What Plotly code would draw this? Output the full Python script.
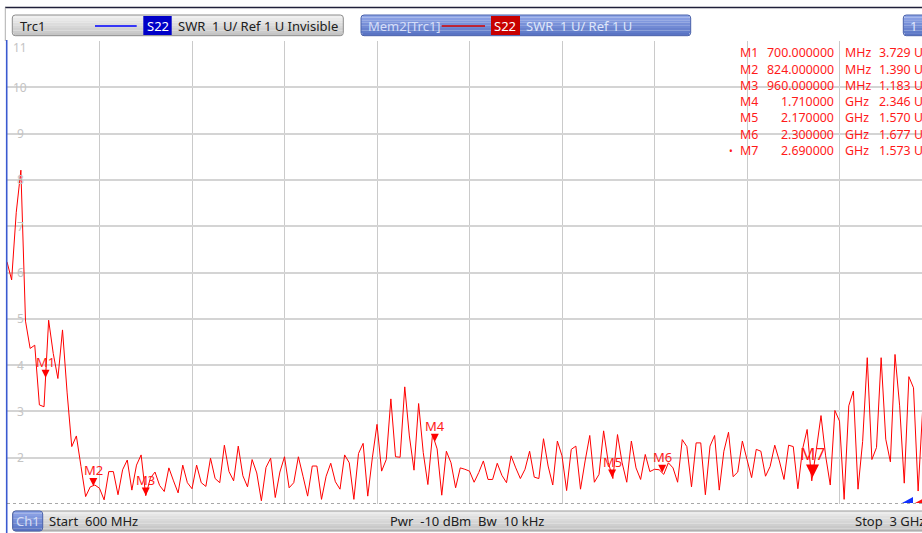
import plotly.graph_objects as go

# ---------------- data ----------------
start_mhz = 600
step_mhz = 12          # 201-point sweep 600 MHz .. 3 GHz
swr = [
    6.23, 5.84, 7.30, 8.21, 4.95, 4.36, 4.43, 3.14, 3.10, 4.97,
    4.25, 3.71, 4.76, 3.40, 2.24, 2.47, 1.81, 1.16, 1.37, 1.41,
    1.34, 1.09, 1.70, 1.70, 1.20, 1.74, 1.95, 1.30, 1.84, 2.06,
    1.18, 1.56, 1.69, 1.40, 1.27, 1.78, 1.50, 1.24, 1.84, 1.46,
    1.33, 1.84, 1.46, 1.38, 1.99, 1.55, 1.46, 2.27, 1.70, 1.50,
    2.25, 1.61, 1.37, 1.96, 1.67, 1.07, 1.79, 1.99, 1.14, 1.69,
    2.02, 1.35, 1.46, 2.02, 1.60, 1.17, 1.82, 1.82, 1.10, 1.60,
    1.88, 1.48, 1.32, 2.06, 1.89, 1.10, 2.09, 2.31, 1.17, 2.00,
    2.72, 1.71, 1.96, 3.27, 2.02, 2.01, 3.53, 2.47, 1.73, 3.17,
    2.11, 1.42, 2.50, 2.19, 1.19, 2.14, 1.89, 1.35, 1.78, 1.75,
    1.71, 1.47, 1.68, 1.93, 1.53, 1.53, 1.88, 1.62, 1.46, 2.04,
    1.78, 1.55, 1.75, 2.14, 1.58, 1.55, 2.41, 1.82, 1.41, 2.36,
    2.04, 1.29, 2.18, 2.25, 1.32, 1.93, 2.48, 1.47, 1.64, 2.58,
    1.90, 1.55, 2.50, 1.89, 1.47, 2.36, 1.78, 1.53, 2.07, 1.70,
    1.75, 1.74, 1.64, 1.89, 1.78, 1.47, 2.39, 2.24, 1.37, 2.32,
    2.32, 1.20, 2.25, 2.48, 1.30, 2.14, 2.55, 1.59, 1.69, 2.36,
    1.96, 1.57, 2.18, 2.14, 1.60, 1.81, 2.27, 1.93, 1.53, 2.27,
    2.24, 1.33, 2.18, 2.61, 1.50, 2.18, 2.91, 2.04, 1.41, 3.02,
    2.79, 1.10, 3.12, 3.44, 1.32, 2.35, 4.16, 1.96, 2.22, 4.16,
    2.40, 1.91, 4.23, 3.12, 1.45, 3.75, 3.51, 1.28, 3.08,
]
freq_mhz = [start_mhz + step_mhz * i for i in range(len(swr))]

marker_names = ["M1", "M2", "M3", "M4", "M5", "M6", "M7"]
marker_freq_mhz = [700, 824, 960, 1710, 2170, 2300, 2690]
marker_swr = [3.729, 1.390, 1.183, 2.346, 1.570, 1.677, 1.573]
marker_freq_text = ["700.000000", "824.000000", "960.000000", "1.710000",
                    "2.170000", "2.300000", "2.690000"]
marker_unit = ["MHz", "MHz", "MHz", "GHz", "GHz", "GHz", "GHz"]
active_marker = "M7"

y_tick_values = [2, 3, 4, 5, 6, 7, 8, 9, 10, 11]

# ---------------- layout geometry (pixels) ----------------
W, H = 922, 533
PL, PR, PT, PB = 7, 922, 41, 504
MHZ_PER_PX = 2400 / 925.0
x_max = start_mhz + (PR - PL) * MHZ_PER_PX

FONT = "Noto Sans"
RED = "#ff1a1a"


def px(x):
    return (x - PL) / (PR - PL)


def py(y):
    return (PB - y) / (PB - PT)


def mix(c1, c2, t):
    a = [int(c1[i:i + 2], 16) for i in (1, 3, 5)]
    b = [int(c2[i:i + 2], 16) for i in (1, 3, 5)]
    return "#%02x%02x%02x" % tuple(round(a[k] + (b[k] - a[k]) * t) for k in range(3))


shapes = []
annotations = []


def add_box(x0, y0, x1, y1, top, bottom, border, n=8):
    for k in range(n):
        ya = y0 + (y1 - y0) * k / n
        yb = y0 + (y1 - y0) * (k + 1) / n
        inset = 1.2 if (k == 0 or k == n - 1) else 0
        shapes.append(dict(type="rect", xref="paper", yref="paper",
                           x0=px(x0 + inset), x1=px(x1 - inset), y0=py(yb), y1=py(ya),
                           fillcolor=mix(top, bottom, (k + 0.5) / n),
                           line=dict(width=0), layer="above"))
    r = 3
    pth = (f"M{px(x0 + r)},{py(y0)} L{px(x1 - r)},{py(y0)} "
           f"Q{px(x1)},{py(y0)} {px(x1)},{py(y0 + r)} L{px(x1)},{py(y1 - r)} "
           f"Q{px(x1)},{py(y1)} {px(x1 - r)},{py(y1)} L{px(x0 + r)},{py(y1)} "
           f"Q{px(x0)},{py(y1)} {px(x0)},{py(y1 - r)} L{px(x0)},{py(y0 + r)} "
           f"Q{px(x0)},{py(y0)} {px(x0 + r)},{py(y0)} Z")
    shapes.append(dict(type="path", xref="paper", yref="paper", path=pth,
                       line=dict(color=border, width=1), layer="above"))


def add_rect(x0, y0, x1, y1, color, layer="above"):
    shapes.append(dict(type="rect", xref="paper", yref="paper",
                       x0=px(x0), x1=px(x1), y0=py(y1), y1=py(y0),
                       fillcolor=color, line=dict(width=0), layer=layer))


def add_line(x0, y0, x1, y1, color, width=1, dash="solid"):
    shapes.append(dict(type="line", xref="paper", yref="paper",
                       x0=px(x0), x1=px(x1), y0=py(y0), y1=py(y1),
                       line=dict(color=color, width=width, dash=dash), layer="above"))


def add_text(x, y, text, color, size=13, xanchor="left"):
    annotations.append(dict(xref="paper", yref="paper", x=px(x), y=py(y), text=text,
                            showarrow=False, xanchor=xanchor, yanchor="middle",
                            font=dict(family=FONT, size=size, color=color)))


# ---------------- frame ----------------
add_line(5, 7.5, 922, 7.5, "#20203a", 1.5)
add_line(5.3, 7.5, 5.3, 41, "#b0b0b0", 1)
add_line(6.7, 40, 6.7, 533, "#3a5ad0", 1.6)

# header: Trc1
add_box(12.3, 15, 343.3, 35.7, "#f2f2f2", "#c2c2c2", "#8c8c8c")
add_text(18, 26, "Trc1", "#202020")
add_line(95, 26, 136.7, 26, "#0000ff", 1.5)
add_rect(143.3, 16, 171.7, 35, "#0000c8")
add_text(157.5, 26, "S22", "#ffffff", xanchor="center")
add_text(176, 26, "SWR  1 U/ Ref 1 U Invisible", "#202020")

# header: Mem2[Trc1]
add_box(361, 15, 690.7, 35.7, "#93a9ea", "#5671c2", "#4a62aa")
add_text(366, 26, "Mem2[Trc1]", "#d6def8")
add_line(441.7, 26, 485, 26, "#d00000", 1.5)
add_rect(491, 16, 520, 35, "#c80000")
add_text(505.5, 26, "S22", "#ffffff", xanchor="center")
add_text(524.3, 26, "SWR  1 U/ Ref 1 U", "#dfe6fa")

# header: channel "1"
add_box(903.3, 15, 930, 35.7, "#93a9ea", "#5671c2", "#4a62aa")
add_text(913, 26, "1", "#e0e8ff", xanchor="center")

# footer
add_box(12.7, 511, 930, 531, "#efefef", "#c0c0c0", "#9a9a9a")
add_box(12.7, 511, 42.7, 531, "#93a9ea", "#5671c2", "#4a62aa")
add_text(27.7, 521, "Ch1", "#d6def8", xanchor="center")
add_text(47, 521, "Start  600 MHz", "#202020")
add_text(388.3, 521, "Pwr  -10 dBm  Bw  10 kHz", "#202020")
add_text(852.7, 521, "Stop  3 GHz", "#202020")

# y tick labels drawn inside the grid (white gap in grid line, behind the trace)
for v in y_tick_values:
    yy = PB - (v - 1) * (PB - PT) / 10.0
    if v == 11:
        yy = 47.5
    else:
        add_rect(12.5, yy - 3, 28.3, yy + 3, "#ffffff", layer="between")
    add_text(20.3, yy, str(v), "#c4c4c4", size=12, xanchor="center")

# bottom reference line and reference-position arrows
shapes.append(dict(type="line", xref="paper", yref="y", x0=0, x1=1, y0=1, y1=1,
                   line=dict(color="#505050", width=1, dash="dot"), layer="above"))
shapes.append(dict(type="path", xref="paper", yref="paper",
                   path=f"M{px(902)},{py(503)} L{px(913)},{py(503)} L{px(913)},{py(497)} Z",
                   fillcolor="#1030ff", line=dict(width=0), layer="above"))
shapes.append(dict(type="path", xref="paper", yref="paper",
                   path=f"M{px(915)},{py(503)} L{px(926)},{py(503)} L{px(926)},{py(497)} Z",
                   fillcolor="#ff1010", line=dict(width=0), layer="above"))

# marker table
TS = 12.4
for k, name in enumerate(marker_names):
    yy = 52.8 + 16.3 * k
    add_text(737.7, yy, name, RED, size=TS)
    add_text(836, yy, marker_freq_text[k], RED, size=TS, xanchor="right")
    add_text(842.7, yy, marker_unit[k], RED, size=TS)
    add_text(876.7, yy, f"{marker_swr[k]:.3f} U", RED, size=TS)
    if name == active_marker:
        add_text(731, yy, "•", RED, size=10, xanchor="center")

# marker triangles on the trace
for k, name in enumerate(marker_names):
    big = name == active_marker
    annotations.append(dict(
        xref="x", yref="y", x=marker_freq_mhz[k], y=marker_swr[k],
        text=name, showarrow=True, ax=0, ay=-24 if big else -16,
        arrowhead=2, arrowsize=2.6 if big else 1.6, arrowwidth=1,
        arrowcolor="#ff0000", standoff=0,
        font=dict(family=FONT, size=17 if big else 13, color=RED)))

fig = go.Figure()
fig.add_trace(go.Scatter(x=freq_mhz, y=swr, mode="lines",
                         line=dict(color="#ff0000", width=1, simplify=False),
                         hoverinfo="skip", showlegend=False))

fig.update_layout(
    width=W, height=H,
    margin=dict(l=PL, r=W - PR, t=PT, b=H - PB, pad=0),
    paper_bgcolor="#ffffff", plot_bgcolor="#ffffff",
    font=dict(family=FONT, size=13),
    xaxis=dict(range=[start_mhz, x_max], tick0=start_mhz, dtick=240,
               showticklabels=False, ticks="", showgrid=True,
               gridcolor="#cacaca", gridwidth=1, zeroline=False, showline=False),
    yaxis=dict(range=[1, 11], tick0=1, dtick=1, showticklabels=False, ticks="",
               showgrid=True, gridcolor="#d4d4d4", gridwidth=1.5,
               zeroline=False, showline=False),
    shapes=shapes, annotations=annotations, showlegend=False,
)

fig.write_html(
    "out.html",
    config={"displayModeBar": False},
    post_script="document.body.style.margin='0';document.body.style.overflow='hidden';",
)
